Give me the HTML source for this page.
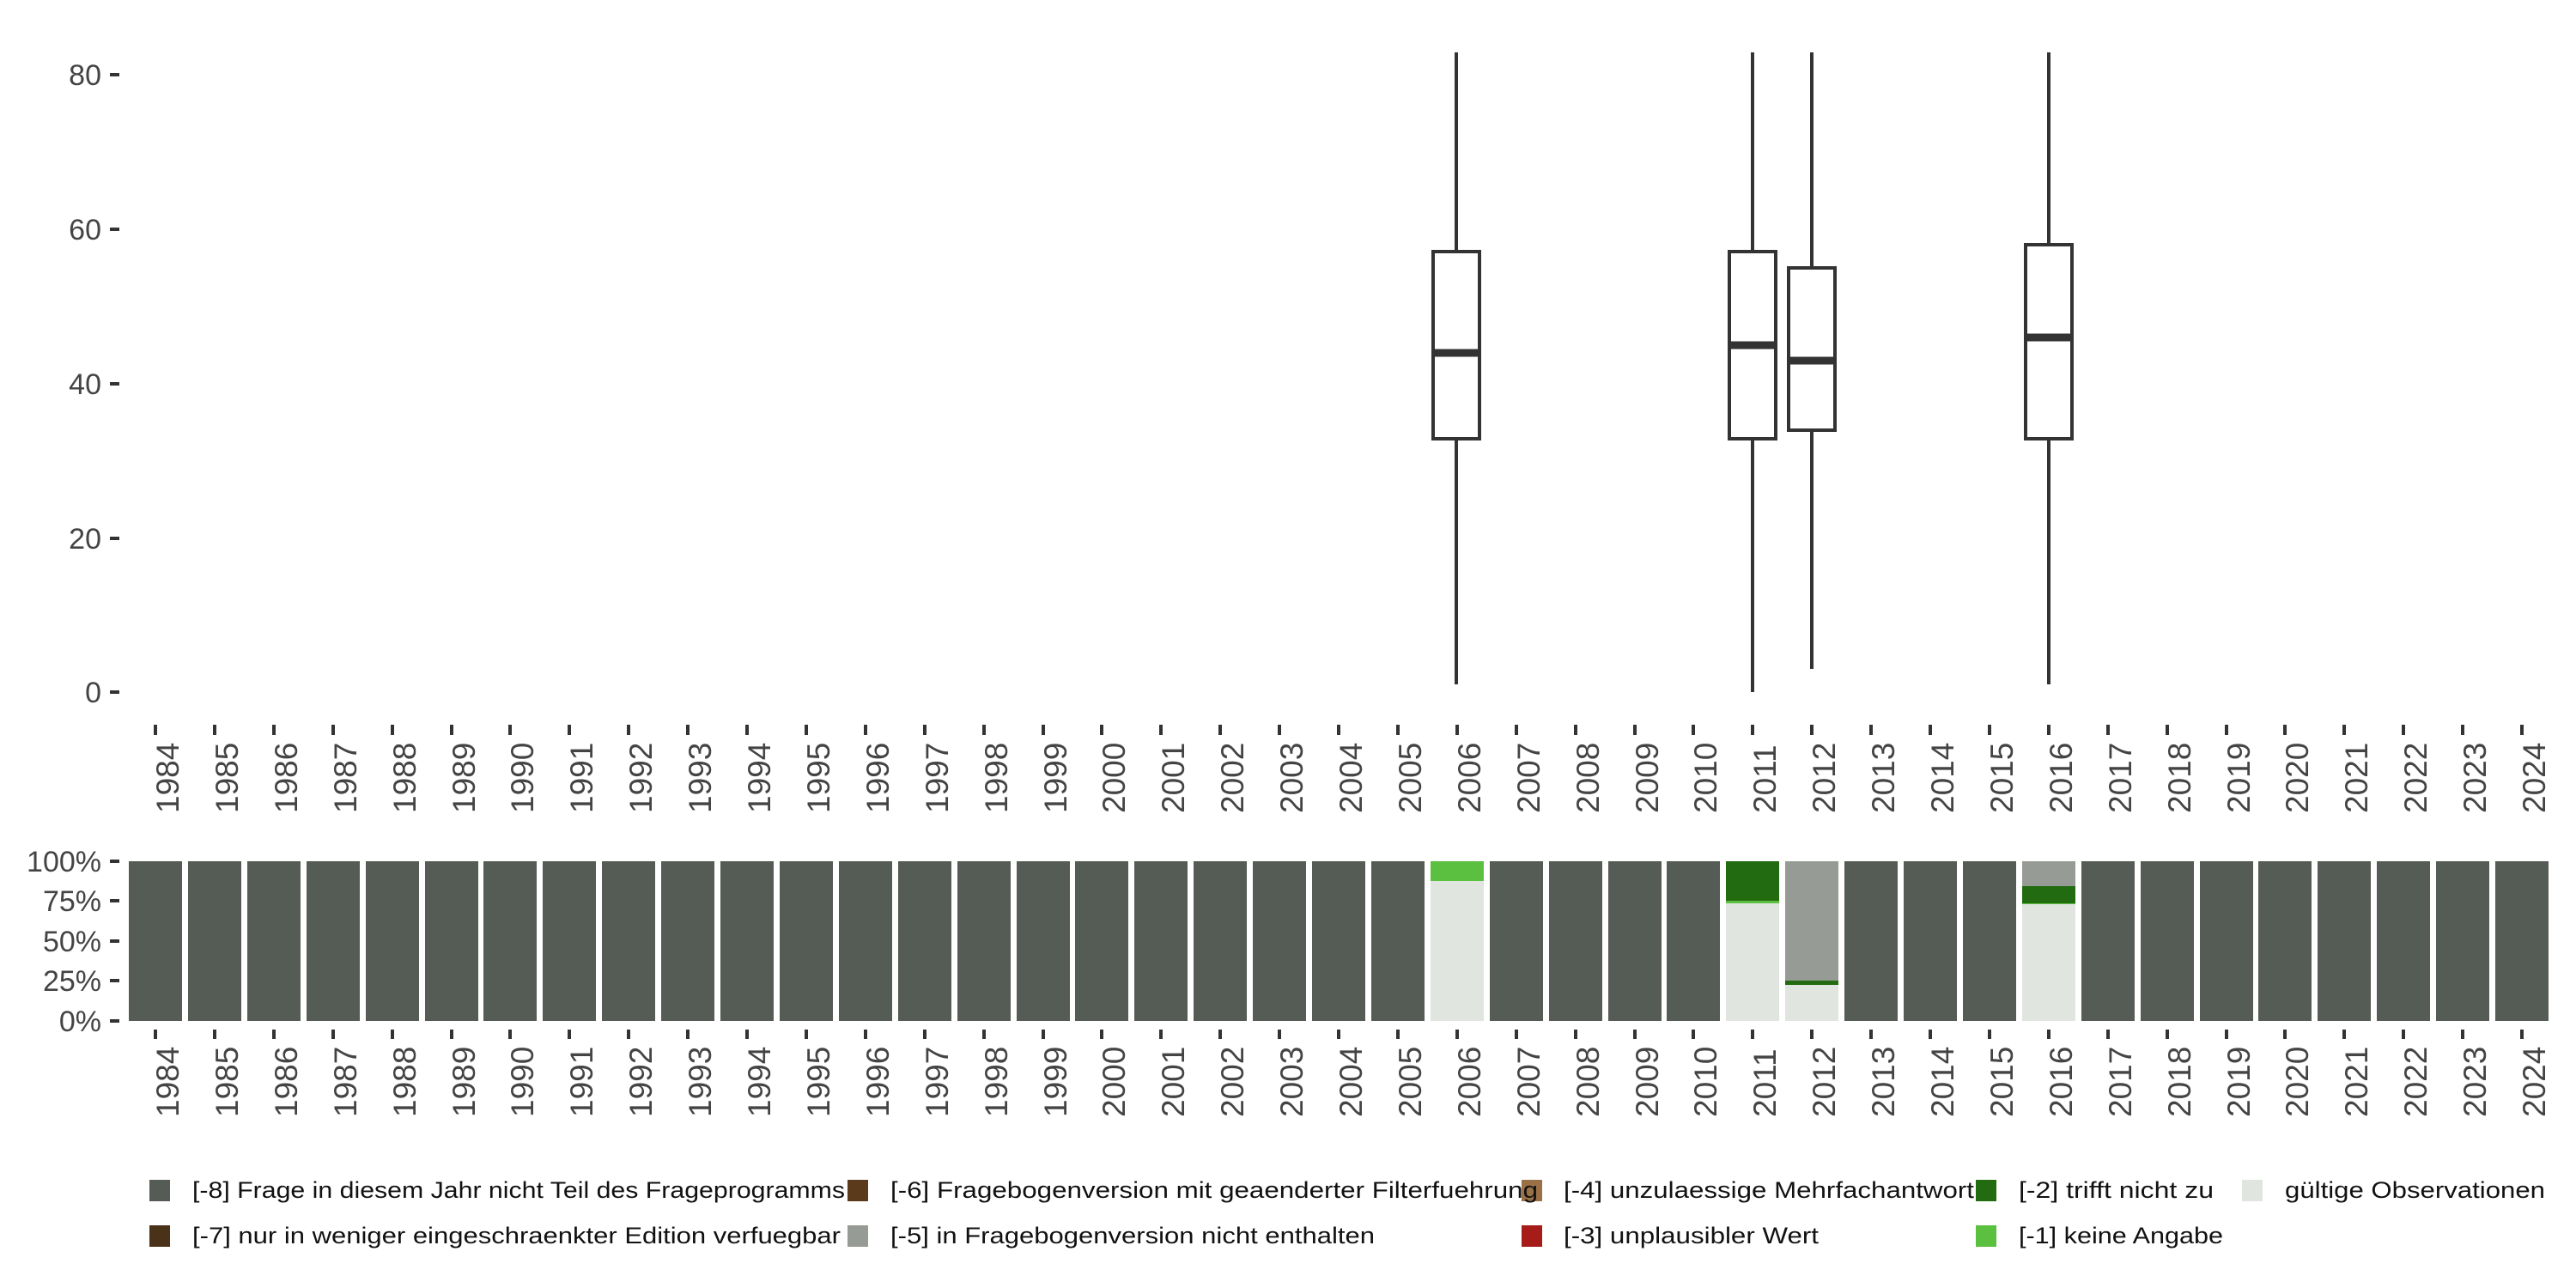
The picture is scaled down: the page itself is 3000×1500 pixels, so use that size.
<!DOCTYPE html>
<html><head><meta charset="utf-8"><style>
html,body{margin:0;padding:0;background:#fff;}
svg{display:block;}
text{font-family:"Liberation Sans",sans-serif;}
</style></head><body>
<svg width="3000" height="1500" viewBox="0 0 3000 1500" xmlns="http://www.w3.org/2000/svg">
<rect width="3000" height="1500" fill="#fff"/>
<g fill="#444" font-size="34" text-anchor="end">
<text x="118" y="99">80</text>
<text x="118" y="279">60</text>
<text x="118" y="459">40</text>
<text x="118" y="639">20</text>
<text x="118" y="818">0</text>
<text x="118" y="1015">100%</text>
<text x="118" y="1061">75%</text>
<text x="118" y="1108">50%</text>
<text x="118" y="1154">25%</text>
<text x="118" y="1201">0%</text>
</g>
<g stroke="#333" stroke-width="4">
<line x1="128" x2="139" y1="87" y2="87"/>
<line x1="128" x2="139" y1="267" y2="267"/>
<line x1="128" x2="139" y1="447" y2="447"/>
<line x1="128" x2="139" y1="627" y2="627"/>
<line x1="128" x2="139" y1="806" y2="806"/>
<line x1="128" x2="139" y1="1003" y2="1003"/>
<line x1="128" x2="139" y1="1049" y2="1049"/>
<line x1="128" x2="139" y1="1096" y2="1096"/>
<line x1="128" x2="139" y1="1142" y2="1142"/>
<line x1="128" x2="139" y1="1189" y2="1189"/>
</g>
<g stroke="#333" stroke-width="4" fill="none">
<line x1="1696" x2="1696" y1="61" y2="293"/><line x1="1696" x2="1696" y1="511" y2="797"/>
<rect x="1669" y="293" width="54" height="218"/><line x1="1669" x2="1723" y1="411" y2="411" stroke-width="9"/>
<line x1="2041" x2="2041" y1="61" y2="293"/><line x1="2041" x2="2041" y1="511" y2="806"/>
<rect x="2014" y="293" width="54" height="218"/><line x1="2014" x2="2068" y1="402" y2="402" stroke-width="9"/>
<line x1="2110" x2="2110" y1="61" y2="312"/><line x1="2110" x2="2110" y1="501" y2="779"/>
<rect x="2083" y="312" width="54" height="189"/><line x1="2083" x2="2137" y1="420" y2="420" stroke-width="9"/>
<line x1="2386" x2="2386" y1="61" y2="285"/><line x1="2386" x2="2386" y1="511" y2="797"/>
<rect x="2359" y="285" width="54" height="226"/><line x1="2359" x2="2413" y1="393" y2="393" stroke-width="9"/>
</g>
<g>
<rect x="174" y="1374" width="24" height="25" fill="#555b55"/>
<rect x="174" y="1427" width="24" height="25" fill="#4a3218"/>
<rect x="987" y="1374" width="24" height="25" fill="#5a3a1a"/>
<rect x="987" y="1427" width="24" height="25" fill="#979b95"/>
<rect x="1772" y="1374" width="24" height="25" fill="#9a7047"/>
<rect x="1772" y="1427" width="24" height="25" fill="#a51c18"/>
<rect x="2301" y="1374" width="24" height="25" fill="#226b10"/>
<rect x="2301" y="1427" width="24" height="25" fill="#5bbf40"/>
<rect x="2611" y="1374" width="24" height="25" fill="#e0e5e0"/>
</g>
<g font-size="27" fill="#111">
<text x="224" y="1395" textLength="760" lengthAdjust="spacingAndGlyphs">[-8] Frage in diesem Jahr nicht Teil des Frageprogramms</text>
<text x="224" y="1448" textLength="755" lengthAdjust="spacingAndGlyphs">[-7] nur in weniger eingeschraenkter Edition verfuegbar</text>
<text x="1037" y="1395" textLength="754" lengthAdjust="spacingAndGlyphs">[-6] Fragebogenversion mit geaenderter Filterfuehrung</text>
<text x="1037" y="1448" textLength="564" lengthAdjust="spacingAndGlyphs">[-5] in Fragebogenversion nicht enthalten</text>
<text x="1821" y="1395" textLength="478" lengthAdjust="spacingAndGlyphs">[-4] unzulaessige Mehrfachantwort</text>
<text x="1821" y="1448" textLength="297" lengthAdjust="spacingAndGlyphs">[-3] unplausibler Wert</text>
<text x="2351" y="1395" textLength="227" lengthAdjust="spacingAndGlyphs">[-2] trifft nicht zu</text>
<text x="2351" y="1448" textLength="238" lengthAdjust="spacingAndGlyphs">[-1] keine Angabe</text>
<text x="2661" y="1395" textLength="303" lengthAdjust="spacingAndGlyphs">gültige Observationen</text>
</g>
<g stroke="#333" stroke-width="4">
<line x1="181" x2="181" y1="844" y2="856"/><line x1="181" x2="181" y1="1199" y2="1210"/>
<line x1="250" x2="250" y1="844" y2="856"/><line x1="250" x2="250" y1="1199" y2="1210"/>
<line x1="319" x2="319" y1="844" y2="856"/><line x1="319" x2="319" y1="1199" y2="1210"/>
<line x1="388" x2="388" y1="844" y2="856"/><line x1="388" x2="388" y1="1199" y2="1210"/>
<line x1="457" x2="457" y1="844" y2="856"/><line x1="457" x2="457" y1="1199" y2="1210"/>
<line x1="526" x2="526" y1="844" y2="856"/><line x1="526" x2="526" y1="1199" y2="1210"/>
<line x1="594" x2="594" y1="844" y2="856"/><line x1="594" x2="594" y1="1199" y2="1210"/>
<line x1="663" x2="663" y1="844" y2="856"/><line x1="663" x2="663" y1="1199" y2="1210"/>
<line x1="732" x2="732" y1="844" y2="856"/><line x1="732" x2="732" y1="1199" y2="1210"/>
<line x1="801" x2="801" y1="844" y2="856"/><line x1="801" x2="801" y1="1199" y2="1210"/>
<line x1="870" x2="870" y1="844" y2="856"/><line x1="870" x2="870" y1="1199" y2="1210"/>
<line x1="939" x2="939" y1="844" y2="856"/><line x1="939" x2="939" y1="1199" y2="1210"/>
<line x1="1008" x2="1008" y1="844" y2="856"/><line x1="1008" x2="1008" y1="1199" y2="1210"/>
<line x1="1077" x2="1077" y1="844" y2="856"/><line x1="1077" x2="1077" y1="1199" y2="1210"/>
<line x1="1146" x2="1146" y1="844" y2="856"/><line x1="1146" x2="1146" y1="1199" y2="1210"/>
<line x1="1215" x2="1215" y1="844" y2="856"/><line x1="1215" x2="1215" y1="1199" y2="1210"/>
<line x1="1283" x2="1283" y1="844" y2="856"/><line x1="1283" x2="1283" y1="1199" y2="1210"/>
<line x1="1352" x2="1352" y1="844" y2="856"/><line x1="1352" x2="1352" y1="1199" y2="1210"/>
<line x1="1421" x2="1421" y1="844" y2="856"/><line x1="1421" x2="1421" y1="1199" y2="1210"/>
<line x1="1490" x2="1490" y1="844" y2="856"/><line x1="1490" x2="1490" y1="1199" y2="1210"/>
<line x1="1559" x2="1559" y1="844" y2="856"/><line x1="1559" x2="1559" y1="1199" y2="1210"/>
<line x1="1628" x2="1628" y1="844" y2="856"/><line x1="1628" x2="1628" y1="1199" y2="1210"/>
<line x1="1697" x2="1697" y1="844" y2="856"/><line x1="1697" x2="1697" y1="1199" y2="1210"/>
<line x1="1766" x2="1766" y1="844" y2="856"/><line x1="1766" x2="1766" y1="1199" y2="1210"/>
<line x1="1835" x2="1835" y1="844" y2="856"/><line x1="1835" x2="1835" y1="1199" y2="1210"/>
<line x1="1904" x2="1904" y1="844" y2="856"/><line x1="1904" x2="1904" y1="1199" y2="1210"/>
<line x1="1972" x2="1972" y1="844" y2="856"/><line x1="1972" x2="1972" y1="1199" y2="1210"/>
<line x1="2041" x2="2041" y1="844" y2="856"/><line x1="2041" x2="2041" y1="1199" y2="1210"/>
<line x1="2110" x2="2110" y1="844" y2="856"/><line x1="2110" x2="2110" y1="1199" y2="1210"/>
<line x1="2179" x2="2179" y1="844" y2="856"/><line x1="2179" x2="2179" y1="1199" y2="1210"/>
<line x1="2248" x2="2248" y1="844" y2="856"/><line x1="2248" x2="2248" y1="1199" y2="1210"/>
<line x1="2317" x2="2317" y1="844" y2="856"/><line x1="2317" x2="2317" y1="1199" y2="1210"/>
<line x1="2386" x2="2386" y1="844" y2="856"/><line x1="2386" x2="2386" y1="1199" y2="1210"/>
<line x1="2455" x2="2455" y1="844" y2="856"/><line x1="2455" x2="2455" y1="1199" y2="1210"/>
<line x1="2524" x2="2524" y1="844" y2="856"/><line x1="2524" x2="2524" y1="1199" y2="1210"/>
<line x1="2593" x2="2593" y1="844" y2="856"/><line x1="2593" x2="2593" y1="1199" y2="1210"/>
<line x1="2661" x2="2661" y1="844" y2="856"/><line x1="2661" x2="2661" y1="1199" y2="1210"/>
<line x1="2730" x2="2730" y1="844" y2="856"/><line x1="2730" x2="2730" y1="1199" y2="1210"/>
<line x1="2799" x2="2799" y1="844" y2="856"/><line x1="2799" x2="2799" y1="1199" y2="1210"/>
<line x1="2868" x2="2868" y1="844" y2="856"/><line x1="2868" x2="2868" y1="1199" y2="1210"/>
<line x1="2937" x2="2937" y1="844" y2="856"/><line x1="2937" x2="2937" y1="1199" y2="1210"/>
</g>
<g fill="#555b55">
<rect x="150" y="1003" width="62" height="186"/><rect x="219" y="1003" width="62" height="186"/><rect x="288" y="1003" width="62" height="186"/><rect x="357" y="1003" width="62" height="186"/><rect x="426" y="1003" width="62" height="186"/><rect x="495" y="1003" width="62" height="186"/><rect x="563" y="1003" width="62" height="186"/><rect x="632" y="1003" width="62" height="186"/><rect x="701" y="1003" width="62" height="186"/><rect x="770" y="1003" width="62" height="186"/><rect x="839" y="1003" width="62" height="186"/><rect x="908" y="1003" width="62" height="186"/><rect x="977" y="1003" width="62" height="186"/><rect x="1046" y="1003" width="62" height="186"/><rect x="1115" y="1003" width="62" height="186"/><rect x="1184" y="1003" width="62" height="186"/><rect x="1252" y="1003" width="62" height="186"/><rect x="1321" y="1003" width="62" height="186"/><rect x="1390" y="1003" width="62" height="186"/><rect x="1459" y="1003" width="62" height="186"/><rect x="1528" y="1003" width="62" height="186"/><rect x="1597" y="1003" width="62" height="186"/>
<rect x="1735" y="1003" width="62" height="186"/><rect x="1804" y="1003" width="62" height="186"/><rect x="1873" y="1003" width="62" height="186"/><rect x="1941" y="1003" width="62" height="186"/>
<rect x="2148" y="1003" width="62" height="186"/><rect x="2217" y="1003" width="62" height="186"/><rect x="2286" y="1003" width="62" height="186"/>
<rect x="2424" y="1003" width="62" height="186"/><rect x="2493" y="1003" width="62" height="186"/><rect x="2562" y="1003" width="62" height="186"/><rect x="2630" y="1003" width="62" height="186"/><rect x="2699" y="1003" width="62" height="186"/><rect x="2768" y="1003" width="62" height="186"/><rect x="2837" y="1003" width="62" height="186"/><rect x="2906" y="1003" width="62" height="186"/>
</g>
<rect x="1666" y="1003" width="62" height="186" fill="#e0e5e0"/><rect x="1666" y="1003" width="62" height="23" fill="#5bbf40"/>
<rect x="2010" y="1003" width="62" height="186" fill="#e0e5e0"/><rect x="2010" y="1003" width="62" height="46" fill="#226b10"/><rect x="2010" y="1049" width="62" height="3" fill="#5bbf40"/>
<rect x="2079" y="1003" width="62" height="186" fill="#e0e5e0"/><rect x="2079" y="1003" width="62" height="139" fill="#979b95"/><rect x="2079" y="1142" width="62" height="5" fill="#226b10"/>
<rect x="2355" y="1003" width="62" height="186" fill="#e0e5e0"/><rect x="2355" y="1003" width="62" height="29" fill="#979b95"/><rect x="2355" y="1032" width="62" height="20" fill="#226b10"/><rect x="2355" y="1052" width="62" height="1" fill="#5bbf40"/>
<g fill="#444" font-size="37">
<text transform="translate(208,947) rotate(-90)">1984</text><text transform="translate(208,1301) rotate(-90)">1984</text>
<text transform="translate(277,947) rotate(-90)">1985</text><text transform="translate(277,1301) rotate(-90)">1985</text>
<text transform="translate(346,947) rotate(-90)">1986</text><text transform="translate(346,1301) rotate(-90)">1986</text>
<text transform="translate(415,947) rotate(-90)">1987</text><text transform="translate(415,1301) rotate(-90)">1987</text>
<text transform="translate(484,947) rotate(-90)">1988</text><text transform="translate(484,1301) rotate(-90)">1988</text>
<text transform="translate(553,947) rotate(-90)">1989</text><text transform="translate(553,1301) rotate(-90)">1989</text>
<text transform="translate(621,947) rotate(-90)">1990</text><text transform="translate(621,1301) rotate(-90)">1990</text>
<text transform="translate(690,947) rotate(-90)">1991</text><text transform="translate(690,1301) rotate(-90)">1991</text>
<text transform="translate(759,947) rotate(-90)">1992</text><text transform="translate(759,1301) rotate(-90)">1992</text>
<text transform="translate(828,947) rotate(-90)">1993</text><text transform="translate(828,1301) rotate(-90)">1993</text>
<text transform="translate(897,947) rotate(-90)">1994</text><text transform="translate(897,1301) rotate(-90)">1994</text>
<text transform="translate(966,947) rotate(-90)">1995</text><text transform="translate(966,1301) rotate(-90)">1995</text>
<text transform="translate(1035,947) rotate(-90)">1996</text><text transform="translate(1035,1301) rotate(-90)">1996</text>
<text transform="translate(1104,947) rotate(-90)">1997</text><text transform="translate(1104,1301) rotate(-90)">1997</text>
<text transform="translate(1173,947) rotate(-90)">1998</text><text transform="translate(1173,1301) rotate(-90)">1998</text>
<text transform="translate(1242,947) rotate(-90)">1999</text><text transform="translate(1242,1301) rotate(-90)">1999</text>
<text transform="translate(1310,947) rotate(-90)">2000</text><text transform="translate(1310,1301) rotate(-90)">2000</text>
<text transform="translate(1379,947) rotate(-90)">2001</text><text transform="translate(1379,1301) rotate(-90)">2001</text>
<text transform="translate(1448,947) rotate(-90)">2002</text><text transform="translate(1448,1301) rotate(-90)">2002</text>
<text transform="translate(1517,947) rotate(-90)">2003</text><text transform="translate(1517,1301) rotate(-90)">2003</text>
<text transform="translate(1586,947) rotate(-90)">2004</text><text transform="translate(1586,1301) rotate(-90)">2004</text>
<text transform="translate(1655,947) rotate(-90)">2005</text><text transform="translate(1655,1301) rotate(-90)">2005</text>
<text transform="translate(1724,947) rotate(-90)">2006</text><text transform="translate(1724,1301) rotate(-90)">2006</text>
<text transform="translate(1793,947) rotate(-90)">2007</text><text transform="translate(1793,1301) rotate(-90)">2007</text>
<text transform="translate(1862,947) rotate(-90)">2008</text><text transform="translate(1862,1301) rotate(-90)">2008</text>
<text transform="translate(1931,947) rotate(-90)">2009</text><text transform="translate(1931,1301) rotate(-90)">2009</text>
<text transform="translate(1999,947) rotate(-90)">2010</text><text transform="translate(1999,1301) rotate(-90)">2010</text>
<text transform="translate(2068,947) rotate(-90)">2011</text><text transform="translate(2068,1301) rotate(-90)">2011</text>
<text transform="translate(2137,947) rotate(-90)">2012</text><text transform="translate(2137,1301) rotate(-90)">2012</text>
<text transform="translate(2206,947) rotate(-90)">2013</text><text transform="translate(2206,1301) rotate(-90)">2013</text>
<text transform="translate(2275,947) rotate(-90)">2014</text><text transform="translate(2275,1301) rotate(-90)">2014</text>
<text transform="translate(2344,947) rotate(-90)">2015</text><text transform="translate(2344,1301) rotate(-90)">2015</text>
<text transform="translate(2413,947) rotate(-90)">2016</text><text transform="translate(2413,1301) rotate(-90)">2016</text>
<text transform="translate(2482,947) rotate(-90)">2017</text><text transform="translate(2482,1301) rotate(-90)">2017</text>
<text transform="translate(2551,947) rotate(-90)">2018</text><text transform="translate(2551,1301) rotate(-90)">2018</text>
<text transform="translate(2620,947) rotate(-90)">2019</text><text transform="translate(2620,1301) rotate(-90)">2019</text>
<text transform="translate(2688,947) rotate(-90)">2020</text><text transform="translate(2688,1301) rotate(-90)">2020</text>
<text transform="translate(2757,947) rotate(-90)">2021</text><text transform="translate(2757,1301) rotate(-90)">2021</text>
<text transform="translate(2826,947) rotate(-90)">2022</text><text transform="translate(2826,1301) rotate(-90)">2022</text>
<text transform="translate(2895,947) rotate(-90)">2023</text><text transform="translate(2895,1301) rotate(-90)">2023</text>
<text transform="translate(2964,947) rotate(-90)">2024</text><text transform="translate(2964,1301) rotate(-90)">2024</text>
</g>
</svg>
</body></html>
